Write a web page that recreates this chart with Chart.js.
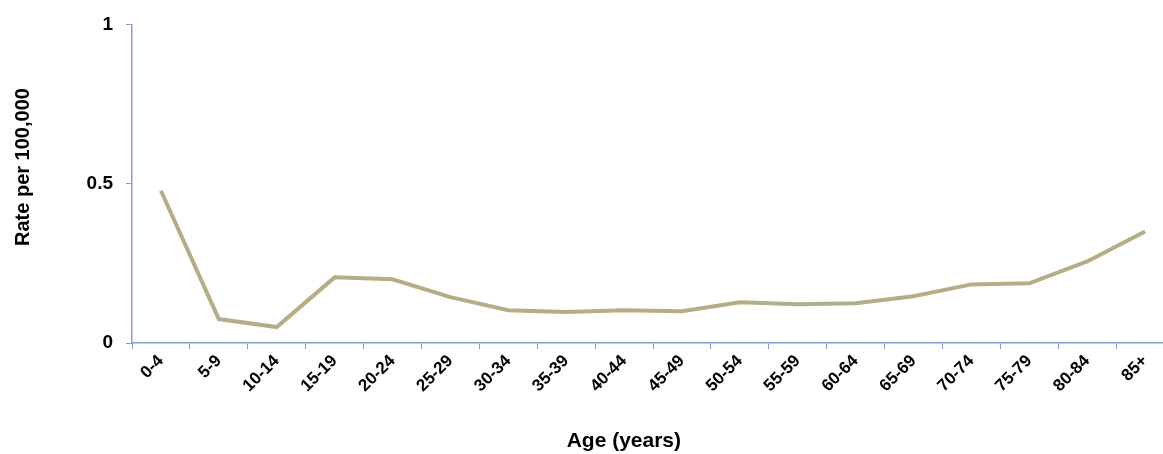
<!DOCTYPE html>
<html>
<head>
<meta charset="utf-8">
<script src="https://cdn.jsdelivr.net/npm/chart.js@4/dist/chart.umd.min.js"></script>
<style>
  body { margin: 0; background: #fff; overflow: hidden; }
</style>
</head>
<body>
<!-- the original plot runs a little past the right edge of the window -->
<canvas id="myChart1" width="1174" height="454"></canvas>
<script>
const ageGroups = [
  "0-4", "5-9", "10-14", "15-19", "20-24", "25-29", "30-34", "35-39", "40-44",
  "45-49", "50-54", "55-59", "60-64", "65-69", "70-74", "75-79", "80-84", "85+",
];
const rates = [
  0.478, 0.075, 0.05, 0.206, 0.2, 0.144, 0.103, 0.097, 0.103,
  0.1, 0.128, 0.122, 0.125, 0.147, 0.184, 0.1875, 0.256, 0.35,
];
const yTicks = [0, 0.5, 1];

const axisColor = "#7f9fd0";
const font = "'Liberation Sans', Arial, sans-serif";

const chart1 = document.getElementById("myChart1");
new Chart(chart1, {
  type: "line",
  data: {
    labels: ageGroups,
    datasets: [
      {
        label: "Rate",
        data: rates,
        borderColor: "#b5ad85",
        borderWidth: 4,
        pointRadius: 0,
        tension: 0,
      },
    ],
  },
  options: {
    responsive: false,
    animation: false,
    layout: { padding: { top: 23, right: 0, left: 0, bottom: 0 } },
    plugins: {
      legend: { display: false },
      tooltip: { enabled: false },
    },
    scales: {
      x: {
        offset: true,
        border: { color: axisColor, width: 1.5 },
        grid: { offset: true, drawOnChartArea: false, color: axisColor, tickLength: 6 },
        ticks: {
          color: "#000",
          maxRotation: 45,
          minRotation: 45,
          autoSkip: false,
          padding: 2,
          font: { family: font, size: 17, weight: "bold" },
        },
        title: {
          display: true,
          // trailing spaces nudge the title left, like the original
          text: "Age (years)          ",
          color: "#000",
          padding: { top: 10, bottom: 0 },
          font: { family: font, size: 21, weight: "bold" },
        },
        afterFit: function (axis) {
          axis.height = 111;
        },
      },
      y: {
        min: 0,
        max: 1,
        border: { color: axisColor, width: 1.5 },
        grid: { drawOnChartArea: false, color: axisColor, tickLength: 6 },
        afterBuildTicks: function (axis) {
          axis.ticks = yTicks.map((v) => ({ value: v }));
        },
        ticks: {
          color: "#000",
          padding: 13,
          callback: function (value) {
            return String(value);
          },
          font: { family: font, size: 19, weight: "bold" },
        },
        title: {
          display: true,
          text: "      Rate per 100,000",
          color: "#000",
          padding: { top: 11, bottom: 0 },
          font: { family: font, size: 20, weight: "bold" },
        },
        afterFit: function (axis) {
          axis.width = 132;
        },
      },
    },
  },
});
</script>
</body>
</html>
